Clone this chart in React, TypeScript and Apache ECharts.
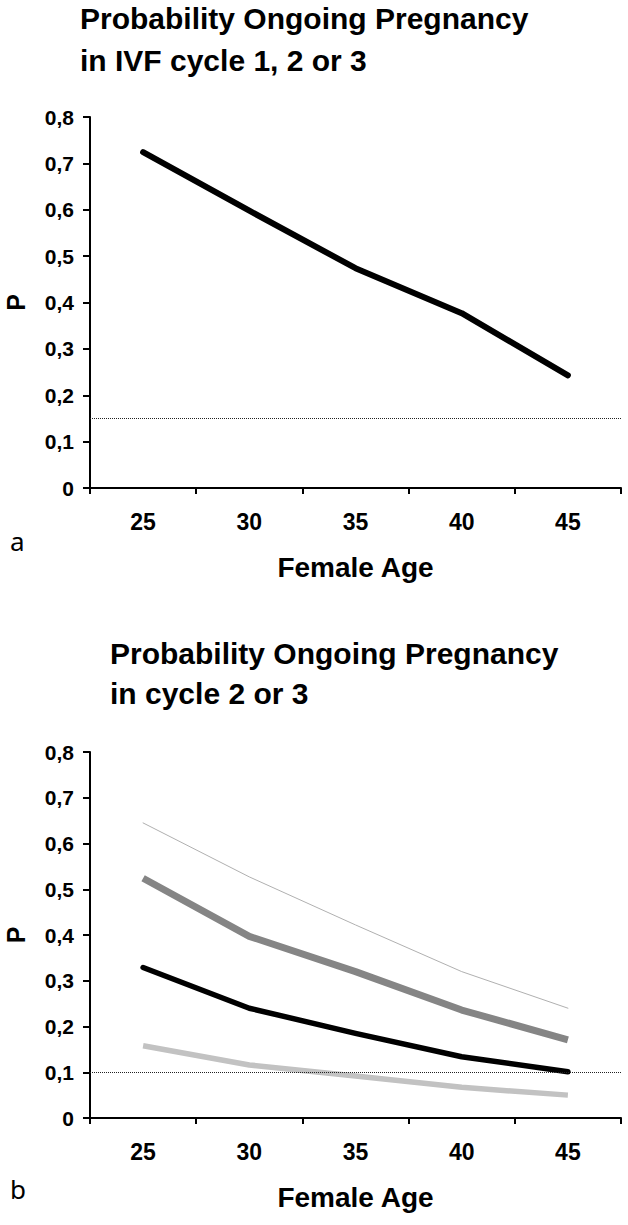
import React, { useEffect, useRef } from "react";
import * as echarts from "echarts";

const ages = ["25", "30", "35", "40", "45"];
const yTicks = ["0", "0,1", "0,2", "0,3", "0,4", "0,5", "0,6", "0,7", "0,8"];

// panel a
const probAll = [0.724, 0.598, 0.474, 0.377, 0.243];
const refA = 0.15;

// panel b
const upperThin = [0.645, 0.527, 0.422, 0.32, 0.24];
const darkGray = [0.524, 0.397, 0.32, 0.236, 0.171];
const blackB = [0.329, 0.24, 0.185, 0.134, 0.101];
const lightGray = [0.158, 0.116, 0.092, 0.067, 0.05];
const refB = 0.1;

const titleA = ["Probability Ongoing Pregnancy", "in IVF cycle 1, 2 or 3"];
const titleB = ["Probability Ongoing Pregnancy", "in cycle 2 or 3"];

const FONT = "Liberation Sans, Arial, sans-serif";

export default function App() {
  const ref = useRef<HTMLDivElement>(null);
  useEffect(() => {
    document.body.style.margin = "0";
    const chart = echarts.init(ref.current!, null, { renderer: "svg" });
    const axisLine = { show: true, lineStyle: { color: "#000", width: 2 } };
    const axisTick = { show: true, inside: false, length: 7, lineStyle: { color: "#000", width: 2 } };
    const mkX = (gridIndex: number) => ({
      type: "category",
      gridIndex,
      data: ages,
      boundaryGap: true,
      axisLine,
      axisTick: { ...axisTick, length: 6 },
      axisLabel: { color: "#000", fontFamily: FONT, fontWeight: "bold", fontSize: 23, margin: 22 },
      name: "Female Age",
      nameLocation: "middle",
      nameGap: 65,
      nameTextStyle: { color: "#000", fontFamily: FONT, fontWeight: "bold", fontSize: 28 },
      splitLine: { show: false },
    });
    const mkY = (gridIndex: number) => ({
      type: "value",
      gridIndex,
      min: 0,
      max: 0.8,
      interval: 0.1,
      axisLine,
      axisTick,
      axisLabel: {
        color: "#000",
        fontFamily: FONT,
        fontWeight: "bold",
        fontSize: 21,
        margin: 16,
        formatter: (v: number) => yTicks[Math.round(v * 10)],
      },
      name: "P",
      nameLocation: "middle",
      nameRotate: 90,
      nameGap: 62,
      nameTextStyle: { color: "#000", fontFamily: FONT, fontWeight: "bold", fontSize: 25 },
      splitLine: { show: false },
    });
    const refLine = (v: number) => ({
      silent: true,
      symbol: ["none", "none"],
      label: { show: false },
      lineStyle: { type: "dotted", color: "#222", width: 1 },
      data: [{ yAxis: v }],
    });
    const line = (name: string, data: number[], idx: number, color: string, width: number, cap = "round") => ({
      type: "line",
      name,
      xAxisIndex: idx,
      yAxisIndex: idx,
      data,
      symbol: "none",
      lineStyle: { color, width, cap, join: "round" },
      z: 3,
    });
    const titleText = (text: string, x: number, y: number) => ({
      type: "text",
      x,
      y,
      style: {
        text,
        fontFamily: FONT,
        fontWeight: "bold",
        fontSize: 30,
        fill: "#000",
        verticalAlign: "middle",
        align: "left",
      },
    });
    const blackA: any = line("IVF cycle 1, 2 or 3", probAll, 0, "#000", 6);
    blackA.markLine = refLine(refA);
    const blackLineB: any = line("black", blackB, 1, "#000", 5.5);
    blackLineB.markLine = refLine(refB);
    chart.setOption({
      animation: false,
      backgroundColor: "#fff",
      grid: [
        { left: 90, top: 117, width: 531, height: 371, containLabel: false, outerBoundsMode: "none" },
        { left: 90, top: 752, width: 531, height: 366, containLabel: false, outerBoundsMode: "none" },
      ],
      xAxis: [mkX(0), mkX(1)],
      yAxis: [mkY(0), mkY(1)],
      series: [
        blackA,
        line("upper", upperThin, 1, "#b0b0b0", 1),
        line("dark gray", darkGray, 1, "#858585", 7, "butt"),
        line("light gray", lightGray, 1, "#c2c2c2", 5.5, "butt"),
        blackLineB,
      ],
      graphic: [
        titleText(titleA[0], 80, 18),
        titleText(titleA[1], 80, 60),
        titleText(titleB[0], 110, 653),
        titleText(titleB[1], 110, 693),
        { type: "text", left: 10, top: 528, style: { text: "a", fontFamily: "Noto Sans, sans-serif", fontSize: 26, fill: "#000" } },
        { type: "text", left: 10, top: 1176, style: { text: "b", fontFamily: "Noto Sans, sans-serif", fontSize: 26, fill: "#000" } },
      ],
    });
    return () => chart.dispose();
  }, []);
  return <div ref={ref} style={{ width: 628, height: 1225 }} />;
}
